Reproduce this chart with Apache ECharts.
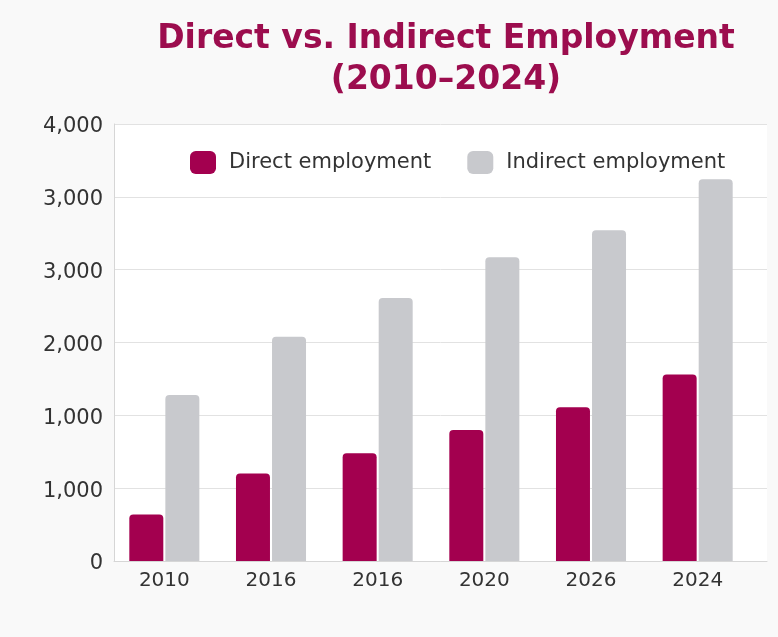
<!DOCTYPE html>
<html>
<head>
	<meta charset="utf-8">
	<title>Direct vs. Indirect Employment</title>
	<style>
		html, body { margin: 0; padding: 0; background: #f9f9f9; }
		#chart { width: 778px; height: 637px; }
	</style>
</head>
<body>
<div id="chart"></div>
<script src="https://cdn.jsdelivr.net/npm/echarts@6/dist/echarts.min.js"></script>
<script type="text/javascript">
// categories as printed on the original picture
var years = ['2010', '2016', '2016', '2020', '2026', '2024'];
// tick labels printed on the y axis, bottom to top
var tickLabels = ['0', '1,000', '1,000', '2,000', '3,000', '3,000', '4,000'];
// values (in axis units, 1000 per gridline)
var directEmployment = [640, 1200, 1480, 1800, 2110, 2560];
var indirectEmployment = [2280, 3080, 3610, 4170, 4540, 5240];

var FONT = '"DejaVu Sans"';
var chart = echarts.init(document.getElementById('chart'), null, {renderer: 'canvas'});

var option = {
	backgroundColor: '#f9f9f9',
	textStyle: { fontFamily: FONT },
	title: {
		text: 'Direct vs. Indirect Employment\n(2010–2024)',
		left: 441,
		top: 14,
		textAlign: 'center',
		textStyle: {
			fontFamily: FONT,
			fontSize: 33,
			fontWeight: 700,
			lineHeight: 41,
			color: '#9c0d4e'
		}
	},
	legend: {
		left: 185,
		top: 146,
		itemWidth: 26,
		itemHeight: 23,
		itemGap: 36,
		icon: 'roundRect',
		textStyle: { fontFamily: FONT, fontSize: 21, color: '#333', padding: [0, 0, 0, 8] },
		data: ['Direct employment', 'Indirect employment']
	},
	grid: [
		// grid used for gridlines, y labels and axis lines
		{ left: 114, right: 11, top: 124, bottom: 76, show: true, backgroundColor: '#ffffff', borderWidth: 0 },
		// grid used for the bars and year labels
		{ left: 111, right: 27, top: 124, bottom: 76 }
	],
	xAxis: [
		{
			gridIndex: 0, type: 'category', data: years,
			axisLine: { show: true, lineStyle: { color: '#d6d6d6' } },
			axisTick: { show: false }, axisLabel: { show: false }
		},
		{
			gridIndex: 1, type: 'category', data: years,
			axisLine: { show: false }, axisTick: { show: false },
			axisLabel: { fontFamily: FONT, fontSize: 20, color: '#333', margin: 10 }
		}
	],
	yAxis: [
		{
			gridIndex: 0, type: 'value', min: 0, max: 6000, interval: 1000,
			axisLine: { show: true, lineStyle: { color: '#d6d6d6' } },
			axisTick: { show: false },
			splitLine: { show: true, lineStyle: { color: '#e2e2e2', width: 1 } },
			axisLabel: {
				fontFamily: FONT, fontSize: 21, color: '#333', margin: 11,
				verticalAlign: 'top', lineHeight: 6,
				formatter: function (v) { return tickLabels[Math.round(v / 1000)]; }
			}
		},
		{
			gridIndex: 1, type: 'value', min: 0, max: 6000, interval: 1000,
			show: false, splitLine: { show: false }
		}
	],
	series: [
		{
			name: 'Direct employment', type: 'bar', xAxisIndex: 1, yAxisIndex: 1,
			data: directEmployment, barWidth: 34, barGap: '6%',
			itemStyle: { color: '#a3004f', borderRadius: [4, 4, 0, 0] }
		},
		{
			name: 'Indirect employment', type: 'bar', xAxisIndex: 1, yAxisIndex: 1,
			data: indirectEmployment, barWidth: 34, barGap: '6%',
			itemStyle: { color: '#c8c9cd', borderRadius: [4, 4, 0, 0] }
		}
	]
};
chart.setOption(option);
</script>
</body>
</html>
